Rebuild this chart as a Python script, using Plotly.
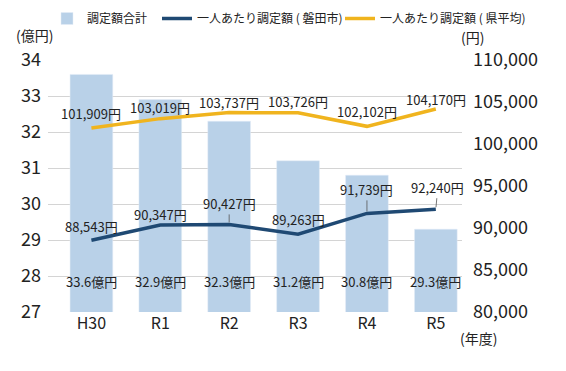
import plotly.graph_objects as go

years = ["H30", "R1", "R2", "R3", "R4", "R5"]
total = [33.6, 32.9, 32.3, 31.2, 30.8, 29.3]          # 億円
iwata = [88543, 90347, 90427, 89263, 91739, 92240]    # 円
pref = [101909, 103019, 103737, 103726, 102102, 104170]  # 円

# style: label offsets (px above point), leader line flags
iwata_off = [14, 11, 21, 15, 24, 22]
iwata_arrow = [False, False, True, False, True, True]
iwata_ax = [0, 0, 0, 0, 0, 2]
pref_off = [14, 11, 10, 11, 14.5, 9]

FONT = "Noto Sans CJK JP"
BAR = "#b9d1e8"
NAVY = "#1f4973"
GOLD = "#f0b41e"
TXT = "#222222"

fig = go.Figure()
fig.add_trace(go.Bar(x=years, y=total, name="調定額合計", marker_color=BAR,
                     width=0.62, yaxis="y", legend="legend"))
fig.add_trace(go.Scatter(x=years, y=iwata, name="一人あたり調定額 ( 磐田市)",
                         mode="lines", line=dict(color=NAVY, width=3.5), yaxis="y2",
                         legend="legend2"))
fig.add_trace(go.Scatter(x=years, y=pref, name="一人あたり調定額 ( 県平均)",
                         mode="lines", line=dict(color=GOLD, width=3.5), yaxis="y2",
                         legend="legend3"))

ann = []
for i, (yr, v) in enumerate(zip(years, total)):
    ann.append(dict(x=yr, y=27.85, xref="x", yref="y", text=f"{v}億円",
                    showarrow=False, font=dict(size=13, color=TXT, family=FONT)))
for i, (yr, v) in enumerate(zip(years, iwata)):
    t = f"{v:,}円"
    if iwata_arrow[i]:
        ann.append(dict(x=yr, y=v, xref="x", yref="y2", text=t, showarrow=True,
                        ax=iwata_ax[i], ay=-iwata_off[i], arrowhead=0, arrowwidth=0.8,
                        arrowcolor="#555555", standoff=2,
                        font=dict(size=13, color=TXT, family=FONT)))
    else:
        ann.append(dict(x=yr, y=v, xref="x", yref="y2", text=t, showarrow=False,
                        yshift=iwata_off[i], font=dict(size=13, color=TXT, family=FONT)))
for i, (yr, v) in enumerate(zip(years, pref)):
    ann.append(dict(x=yr, y=v, xref="x", yref="y2", text=f"{v:,}円", showarrow=False,
                    yshift=pref_off[i], font=dict(size=13, color=TXT, family=FONT)))

W, H = 566, 371
ML, MR, MT, MB = 48, 104, 60, 59
PW, PH = W - ML - MR, H - MT - MB
# axis unit titles (given in top-left pixels, converted to paper coords)
for txt, px, py in [("(億円)", 34, 35), ("(円)", 472, 37), ("(年度)", 478, 338)]:
    ann.append(dict(x=(px - ML) / PW, y=(H - py - MB) / PH, xref="paper", yref="paper",
                    text=txt, showarrow=False, xanchor="center", yanchor="middle",
                    font=dict(size=14, color=TXT, family=FONT)))

def leg(px):
    return dict(orientation="h", xref="container", yref="container",
                x=px / W, xanchor="left", y=1 - 4 / H, yanchor="top",
                font=dict(size=12, family=FONT, color=TXT), bgcolor="rgba(0,0,0,0)")

fig.update_layout(
    width=W, height=H,
    margin=dict(l=ML, r=MR, t=MT, b=MB, autoexpand=False),
    paper_bgcolor="white", plot_bgcolor="white",
    font=dict(family=FONT, color=TXT),
    showlegend=True,
    legend=leg(47), legend2=leg(157), legend3=leg(340),
    xaxis=dict(type="category", range=[-0.63, 5.38], showgrid=False,
               tickfont=dict(size=16, family=FONT, color=TXT), ticks="",
               showline=False, zeroline=False),
    yaxis=dict(range=[27, 34], dtick=1, showgrid=True, gridcolor="#d4d4d4", gridwidth=1,
               tickfont=dict(size=18, family=FONT, color=TXT), zeroline=False,
               ticklabelstandoff=6),
    yaxis2=dict(range=[80000, 110000], dtick=5000, overlaying="y", side="right",
                showgrid=False, tickformat=",", zeroline=False,
                tickfont=dict(size=18, family=FONT, color=TXT), ticklabelstandoff=10),
    annotations=ann,
)

fig.write_html("out.html", config={"displayModeBar": False},
               post_script="document.body.style.margin='0';")
